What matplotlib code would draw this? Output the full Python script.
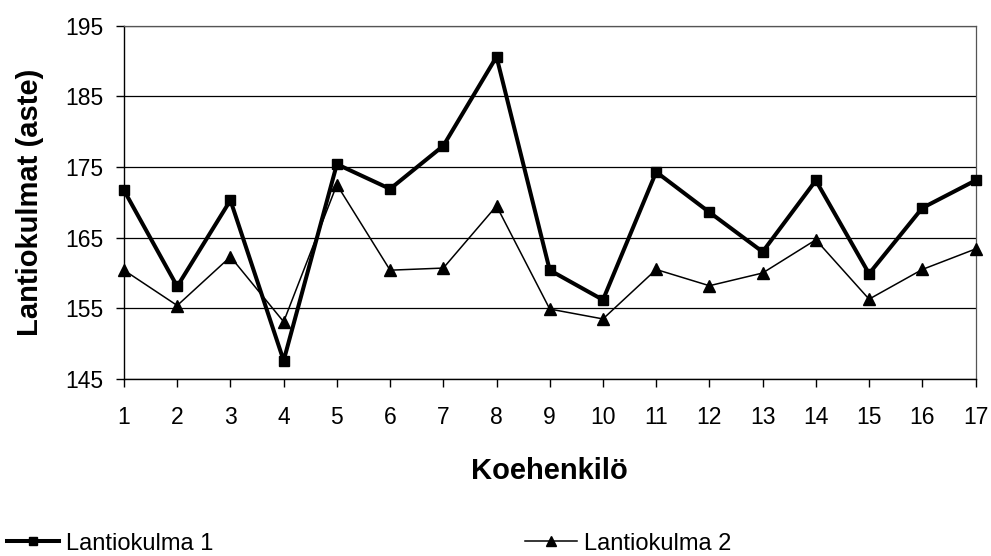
import matplotlib
matplotlib.use("Agg")
import matplotlib.pyplot as plt

plt.rcParams['font.family'] = ['Liberation Sans', 'DejaVu Sans']

subjects = list(range(1, 18))
lantiokulma_1 = [171.7, 158.1, 170.3, 147.6, 175.4, 171.9, 178.0, 190.6, 160.4,
                 156.2, 174.3, 168.6, 163.0, 173.1, 159.9, 169.2, 173.1]
lantiokulma_2 = [160.4, 155.4, 162.3, 153.1, 172.5, 160.4, 160.7, 169.5, 154.9,
                 153.5, 160.5, 158.2, 160.0, 164.7, 156.3, 160.5, 163.4]
y_ticks = [145, 155, 165, 175, 185, 195]

W, H = 991, 556
fig = plt.figure(figsize=(W / 100, H / 100), dpi=100)
ax = fig.add_axes([124 / W, 1 - 379 / H, (975.5 - 124) / W, (379 - 25.7) / H])

l1, = ax.plot(subjects, lantiokulma_1, color='black', linewidth=2.9,
              marker='s', markersize=7.2, label='Lantiokulma 1', zorder=3,
              clip_on=False)
l2, = ax.plot(subjects, lantiokulma_2, color='black', linewidth=1.1,
              marker='^', markersize=8.5, label='Lantiokulma 2', zorder=3,
              clip_on=False)

ax.set_xlim(1, 17)
ax.set_ylim(145, 195)
ax.set_yticks(y_ticks)
ax.set_xticks(subjects)
ax.yaxis.grid(True, color='black', linewidth=0.9)
ax.set_axisbelow(True)

for side in ['left', 'bottom']:
    ax.spines[side].set_color('black')
    ax.spines[side].set_linewidth(1.0)
for side in ['top', 'right']:
    ax.spines[side].set_color('#555555')
    ax.spines[side].set_linewidth(0.9)

ax.tick_params(axis='both', direction='out', length=5.8, width=1.0,
               labelsize=16.5, colors='black')
ax.tick_params(axis='x', pad=14)
ax.tick_params(axis='y', pad=9)

ax.set_xlabel('Koehenkilö', fontsize=21, fontweight='bold')
ax.xaxis.set_label_coords(0.5, (379 - 457) / 353.3)
ax.set_ylabel('Lantiokulmat (aste)', fontsize=21, fontweight='bold')
ax.yaxis.set_label_coords((44 - 124) / 851.5, 0.5)

common = dict(frameon=False, fontsize=17, handlelength=2.2, handletextpad=0.3,
              borderpad=0, borderaxespad=0, markerscale=0.85)
fig.legend(handles=[l1], loc='center left', bbox_to_anchor=(7 / W, 1 - 543.5 / H), **common)
fig.legend(handles=[l2], loc='center left', bbox_to_anchor=(525 / W, 1 - 543.5 / H), **common)

fig.savefig('out.png', dpi=100)
